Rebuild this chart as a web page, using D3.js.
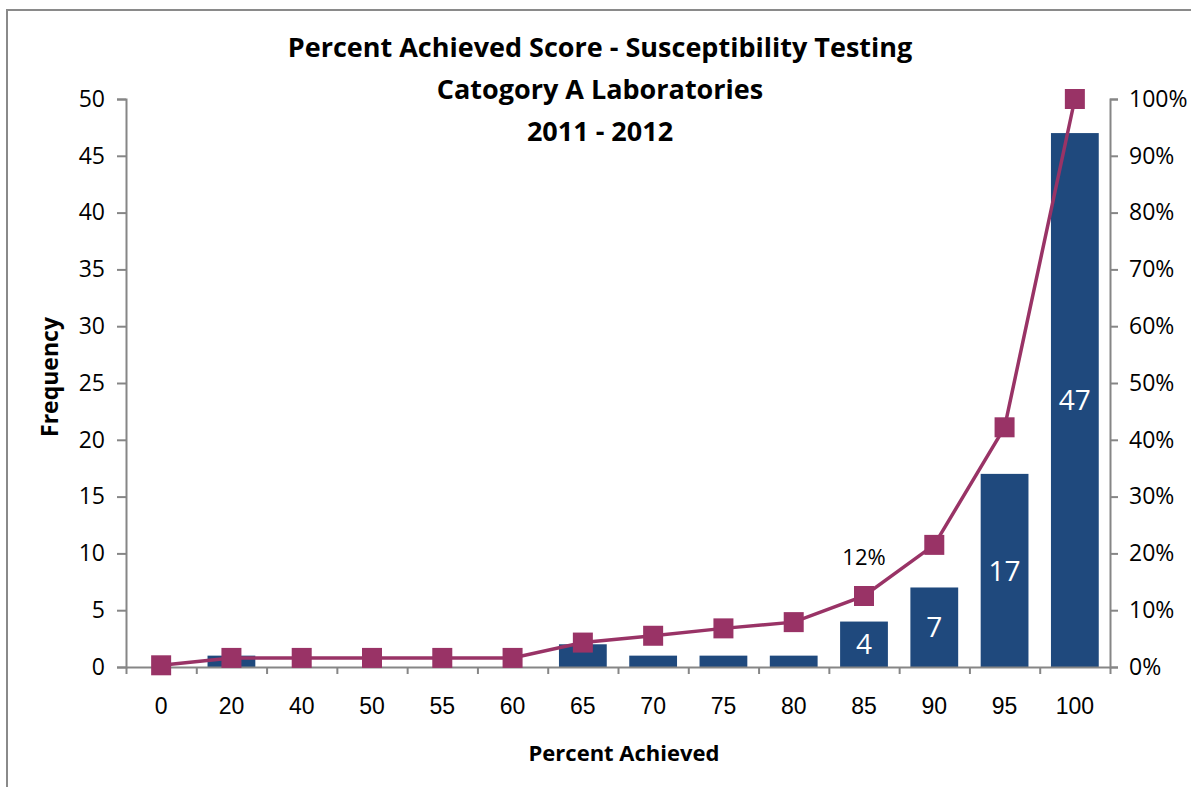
<!DOCTYPE html>
<html>
<head>
<meta charset="utf-8">
<script src="https://cdnjs.cloudflare.com/ajax/libs/d3/7.8.5/d3.min.js"></script>
<style>
  body { margin: 0; background: #fff; }
  svg { display: block; font-family: "Open Sans", "Noto Sans", sans-serif; }
</style>
</head>
<body>
<svg id="chart" width="1191" height="787"></svg>
<script>
// data
var categories = ['0', '20', '40', '50', '55', '60', '65', '70', '75', '80', '85', '90', '95', '100'];
var frequency = [0, 1, 0, 0, 0, 0, 2, 1, 1, 1, 4, 7, 17, 47];
var cumulative = [0.3, 1.6, 1.6, 1.6, 1.6, 1.6, 4.3, 5.5, 6.8, 7.9, 12.5, 21.5, 42.2, 100];
var barLabels = [null, null, null, null, null, null, null, null, null, null, '4', '7', '17', '47'];
var lineLabels = [null, null, null, null, null, null, null, null, null, null, '12%', null, null, null];
var titleLines = ['Percent Achieved Score - Susceptibility Testing', 'Catogory A Laboratories', '2011 - 2012'];

var svg = d3.select('#chart');
var axisColor = '#868686', barColor = '#1F497D', lineColor = '#993366';
var plotLeft = 126, plotRight = 1110, plotTop = 99, plotBottom = 667;
var tickFont = '23px';

// outer frame
svg.append('rect')
  .attr('x', 7).attr('y', 10).attr('width', 1200).attr('height', 800)
  .attr('fill', 'none').attr('stroke', '#8a8a8a').attr('stroke-width', 2);

var x = d3.scaleBand().domain(categories).range([plotLeft, plotRight]).paddingInner(0.32).paddingOuter(0.16);
var y = d3.scaleLinear().domain([0, 50]).range([plotBottom, plotTop]);
var y2 = d3.scaleLinear().domain([0, 100]).range([plotBottom, plotTop]);
var cx = function(i) { return x(categories[i]) + x.bandwidth() / 2; };

// bars
svg.selectAll('rect.bar').data(frequency).enter().append('rect')
  .attr('class', 'bar')
  .attr('x', function(d, i) { return x(categories[i]); })
  .attr('width', x.bandwidth())
  .attr('y', function(d) { return y(d); })
  .attr('height', function(d) { return plotBottom - y(d); })
  .attr('fill', barColor);

frequency.forEach(function(d, i) {
  if (!barLabels[i]) return;
  svg.append('text')
    .attr('x', cx(i))
    .attr('y', (y(d) + plotBottom) / 2)
    .attr('dy', '0.36em')
    .attr('text-anchor', 'middle')
    .attr('fill', '#fff')
    .style('font-size', '28px')
    .text(barLabels[i]);
});

// axes
function styleAxis(g) {
  g.selectAll('path, line').attr('stroke', axisColor).attr('stroke-width', 2);
  g.selectAll('text').attr('fill', '#000').style('font-size', tickFont).style('font-family', '"Open Sans", "Noto Sans", sans-serif');
}

var xBoundaries = d3.scaleLinear().domain([0, categories.length]).range([plotLeft, plotRight]);
var gx = svg.append('g').attr('transform', 'translate(0,' + plotBottom + ')');
gx.call(d3.axisBottom(xBoundaries).tickValues(d3.range(0, categories.length + 1)).tickSize(7).tickSizeOuter(0).tickFormat(''));
styleAxis(gx);
gx.selectAll('text.xl').data(categories).enter().append('text')
  .attr('class', 'xl')
  .attr('x', function(d, i) { return cx(i); })
  .attr('y', 47)
  .attr('text-anchor', 'middle')
  .attr('fill', '#000')
  .style('font-size', tickFont)
  .text(function(d) { return d; });

var gy = svg.append('g').attr('transform', 'translate(' + plotLeft + ',0)');
gy.call(d3.axisLeft(y).ticks(10).tickSize(9).tickSizeOuter(9).tickPadding(12));
styleAxis(gy);

var gy2 = svg.append('g').attr('transform', 'translate(' + plotRight + ',0)');
gy2.call(d3.axisRight(y2).ticks(10).tickSize(8).tickSizeOuter(8).tickPadding(11).tickFormat(function(d) { return d + '%'; }));
styleAxis(gy2);

// cumulative line
var line = d3.line()
  .x(function(d, i) { return cx(i); })
  .y(function(d) { return y2(d); });

svg.append('path').datum(cumulative)
  .attr('d', line)
  .attr('fill', 'none')
  .attr('stroke', lineColor)
  .attr('stroke-width', 3.5);

svg.selectAll('rect.mark').data(cumulative).enter().append('rect')
  .attr('class', 'mark')
  .attr('x', function(d, i) { return cx(i) - 10; })
  .attr('y', function(d) { return y2(d) - 10; })
  .attr('width', 20).attr('height', 20)
  .attr('fill', lineColor);

cumulative.forEach(function(d, i) {
  if (!lineLabels[i]) return;
  svg.append('text')
    .attr('x', cx(i))
    .attr('y', y2(d) - 31)
    .attr('text-anchor', 'middle')
    .style('font-size', '22px')
    .text(lineLabels[i]);
});

// titles
svg.selectAll('text.title').data(titleLines).enter().append('text')
  .attr('class', 'title')
  .attr('x', 600)
  .attr('y', function(d, i) { return 57 + i * 42; })
  .attr('text-anchor', 'middle')
  .style('font-size', '27px')
  .style('font-weight', 'bold')
  .text(function(d) { return d; });

svg.append('text')
  .attr('x', 624).attr('y', 761)
  .attr('text-anchor', 'middle')
  .style('font-size', '22px').style('font-weight', 'bold')
  .text('Percent Achieved');

svg.append('text')
  .attr('transform', 'translate(58,377) rotate(-90)')
  .attr('text-anchor', 'middle')
  .style('font-size', '23px').style('font-weight', 'bold')
  .text('Frequency');
</script>
</body>
</html>
